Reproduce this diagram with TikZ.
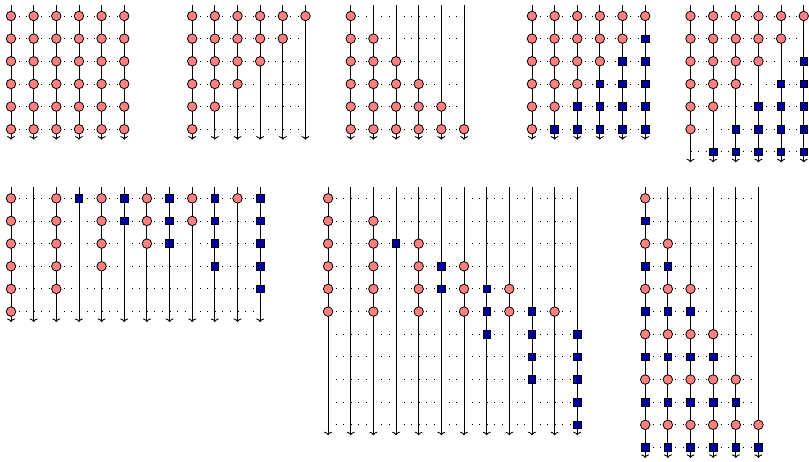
\documentclass[tikz,border=0pt]{standalone}
\usetikzlibrary{arrows.meta}
\definecolor{pinkfill}{RGB}{255,128,128}
\definecolor{sqblue}{RGB}{0,0,160}
\tikzset{
  redcirc/.style={circle, draw=black, fill=pinkfill, line width=0.8pt, inner sep=0pt, minimum size=9.5pt},
  bluesq/.style={rectangle, draw=black, fill=sqblue, line width=0.8pt, inner sep=0pt, minimum size=7.5pt},
  wire/.style={line width=0.9pt, -{To[length=3.5pt,width=8pt]}},
  guide/.style={line width=0.9pt, dash pattern=on 1pt off 6.55pt},
}
\newcommand\framepanel[5]{%
  \foreach \r in {1,...,#5}{
    \coordinate (#1-L\r) at (#2, #3+\r-1);
    \coordinate (#1-R\r) at (#2+#4-1, #3+\r-1);
    \draw[guide] (#1-L\r) -- (#1-R\r);
  }
  \foreach \c in {1,...,#4}{
    \coordinate (#1-T\c) at (#2+\c-1, #3-0.5);
    \coordinate (#1-B\c) at (#2+\c-1, #3+#5-1+0.46);
    \draw[wire] (#1-T\c) -- (#1-B\c);
  }
}
\begin{document}
\begin{tikzpicture}[x=22.65pt, y=-22.65pt]
\useasboundingbox (-0.4857,-0.7064) rectangle (35.2318,19.6468);
% frames
\framepanel{pA}{0}{0}{6}{6}
\framepanel{pB}{8}{0}{6}{6}
\framepanel{pC}{15}{0}{6}{6}
\framepanel{pD}{23}{0}{6}{6}
\framepanel{pE}{30}{0}{6}{7}
\framepanel{pF}{0}{8.05}{12}{6}
\framepanel{pG}{14}{8.05}{12}{11}
\framepanel{pH}{28}{8.05}{6}{12}
% panel A
\foreach \c in {1,...,6}{\foreach \r in {1,...,6}{
  \node[redcirc] (pA-\c-\r) at (\c-1,\r-1) {};}}
% panel B
\foreach \c in {1,...,6}{\pgfmathtruncatemacro\m{7-\c}
  \foreach \r in {1,...,\m}{\node[redcirc] (pB-\c-\r) at (8+\c-1,\r-1) {};}}
% panel C
\foreach \c in {1,...,6}{
  \foreach \r in {\c,...,6}{\node[redcirc] (pC-\c-\r) at (15+\c-1,\r-1) {};}}
% panel D
\foreach \r in {1,...,6}{\pgfmathtruncatemacro\m{7-\r}\pgfmathtruncatemacro\n{8-\r}
  \foreach \c in {1,...,\m}{\node[redcirc] (pD-\c-\r) at (23+\c-1,\r-1) {};}
  \ifnum\r>1
    \foreach \c in {\n,...,6}{\node[bluesq] (pD-\c-\r) at (23+\c-1,\r-1) {};}
  \fi}
% panel E
\foreach \r in {1,...,7}{\pgfmathtruncatemacro\m{7-\r}\pgfmathtruncatemacro\n{9-\r}
  \ifnum\r<7
    \foreach \c in {1,...,\m}{\node[redcirc] (pE-\c-\r) at (30+\c-1,\r-1) {};}
  \fi
  \ifnum\r>2
    \foreach \c in {\n,...,6}{\node[bluesq] (pE-\c-\r) at (30+\c-1,\r-1) {};}
  \fi}
% panel F
\foreach \k in {1,...,6}{\pgfmathtruncatemacro\m{7-\k}\pgfmathtruncatemacro\n{\k-1}
  \pgfmathtruncatemacro\co{2*\k-1}\pgfmathtruncatemacro\ce{2*\k}
  \foreach \r in {1,...,\m}{\node[redcirc] (pF-\co-\r) at (\co-1,8.05+\r-1) {};}
  \ifnum\k>1
    \foreach \r in {1,...,\n}{\node[bluesq] (pF-\ce-\r) at (\ce-1,8.05+\r-1) {};}
  \fi}
% panel G
\foreach \k in {1,...,6}{\pgfmathtruncatemacro\a{\k+1}\pgfmathtruncatemacro\b{2*\k-1}
  \pgfmathtruncatemacro\co{2*\k-1}\pgfmathtruncatemacro\ce{2*\k}
  \foreach \r in {\k,...,6}{\node[redcirc] (pG-\co-\r) at (14+\co-1,8.05+\r-1) {};}
  \ifnum\k>1
    \foreach \r in {\a,...,\b}{\node[bluesq] (pG-\ce-\r) at (14+\ce-1,8.05+\r-1) {};}
  \fi}
% panel H
\foreach \m in {1,...,6}{\pgfmathtruncatemacro\ro{2*\m-1}\pgfmathtruncatemacro\re{2*\m}
  \foreach \c in {1,...,\m}{
    \node[redcirc] (pH-\c-\ro) at (28+\c-1,8.05+\ro-1) {};
    \node[bluesq] (pH-\c-\re) at (28+\c-1,8.05+\re-1) {};}}
\end{tikzpicture}
\end{document}
